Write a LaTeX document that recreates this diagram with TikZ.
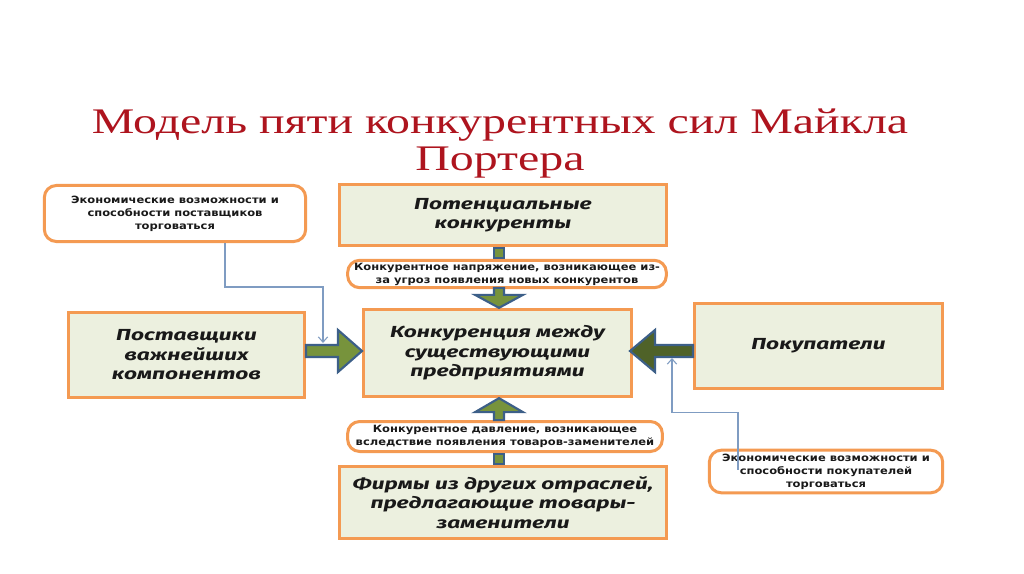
\documentclass[tikz,border=0pt]{standalone}
\usepackage{fontspec}
\setmainfont[FakeStretch=1.33]{Liberation Serif}
\newfontfamily\boxfont[FakeStretch=1.42]{Fira Sans}
\newfontfamily\smfont[FakeStretch=1.15]{DejaVu Sans}
\usetikzlibrary{arrows.meta,calc}
\definecolor{orangeB}{HTML}{F49A52}
\definecolor{boxfill}{HTML}{ECF0DF}
\definecolor{arrgreen}{HTML}{77933C}
\definecolor{arrdark}{HTML}{4F6228}
\definecolor{arrblue}{HTML}{3C5F88}
\definecolor{thinblue}{HTML}{7F9CC2}
\definecolor{titlered}{HTML}{AE141E}
\newcommand{\bigtxt}{\boxfont\bfseries\itshape\fontsize{12}{14.6}\selectfont}
\newcommand{\smalltxt}{\smfont\bfseries\fontsize{7.5}{9.75}\selectfont}
\begin{document}
\begin{tikzpicture}[x=0.75pt,y=-0.75pt,
  box/.style={draw=orangeB, line width=2.25pt, fill=boxfill, inner sep=0pt, align=center, font=\bigtxt, text=black!90},
  rbox/.style={draw=orangeB, line width=2.25pt, fill=white, rounded corners=9pt, inner sep=0pt, align=center, font=\smalltxt, text=black!90},
  bigarr/.style={draw=arrblue, line width=1.6pt, fill=arrgreen, line join=miter},
  thinarr/.style={draw=thinblue, line width=0.8pt, -{Straight Barb[length=4pt,width=7pt]}},
  sqnode/.style={draw=arrblue, line width=1.3pt, fill=arrgreen, inner sep=0pt}
]
\fill[white] (0,0) rectangle (1024,574);
\useasboundingbox (0,0) rectangle (1024,574);

\node[font=\fontsize{27}{27.75}\selectfont, text=titlered, align=center] (title) at (500,144)
  {Модель пяти конкурентных сил Майкла\\Портера};

\node[rbox, minimum width=196pt, minimum height=42pt] (secon) at (175,213.5)
  {Экономические возможности и\\способности поставщиков\\торговаться};
\node[box, minimum width=245pt, minimum height=46pt] (pot) at (503,215)
  {Потенциальные\\конкуренты};
\node[rbox, minimum width=239pt, minimum height=20.5pt] (tens) at (507,274)
  {Конкурентное напряжение, возникающее из-\\за угроз появления новых конкурентов};
\node[box, minimum width=201pt, minimum height=65.5pt] (central) at (497.5,353)
  {Конкуренция между\\существующими\\предприятиями};
\node[box, minimum width=177pt, minimum height=64pt] (sup) at (186.5,355)
  {Поставщики\\важнейших\\компонентов};
\node[box, minimum width=186pt, minimum height=64pt] (buy) at (818.5,346)
  {Покупатели};
\node[rbox, minimum width=236pt, minimum height=22.5pt] (pres) at (505,436.5)
  {Конкурентное давление, возникающее\\вследствие появления товаров-заменителей};
\node[box, minimum width=245pt, minimum height=54pt] (firms) at (503,502.5)
  {Фирмы из других отраслей,\\предлагающие товары-\\заменители};
\node[rbox, minimum width=175pt, minimum height=32pt] (becon) at (826,471.5)
  {Экономические возможности и\\способности покупателей\\торговаться};

\node[sqnode, minimum size=7.5pt] (sq1) at (499,253) {};
\node[sqnode, minimum size=8pt] (sq2) at (499,459) {};

% big arrows
\draw[bigarr] (central.north -| sq1) -- ++(-24,-13) -- ++(19,0) -- ++(0,-7) -- ++(10,0) -- ++(0,7) -- ++(19,0) -- cycle;
\draw[bigarr] (central.south -| sq1) -- ++(-24,14) -- ++(19,0) -- ++(0,8) -- ++(10,0) -- ++(0,-8) -- ++(19,0) -- cycle;
\draw[bigarr] (central.west) ++(0,-2) -- ++(-24,-21) -- ++(0,15) -- ++(-32,0) -- ++(0,12) -- ++(32,0) -- ++(0,15) -- cycle;
\draw[bigarr, fill=arrdark] (central.east) ++(-3,-2) -- ++(25,-21) -- ++(0,15) -- ++(38,0) -- ++(0,12) -- ++(-38,0) -- ++(0,15) -- cycle;

% thin connectors
\coordinate (sarr) at ($(central.west)+(-39,-10)$);
\coordinate (barr) at ($(central.east)+(39,5)$);
\draw[thinarr] (secon.south) ++(50,0) -- ++(0,44) -| (sarr);
\draw[thinarr] (becon.center) ++(-88,-2) -- ++(0,-57) -| (barr);
\end{tikzpicture}
\end{document}
